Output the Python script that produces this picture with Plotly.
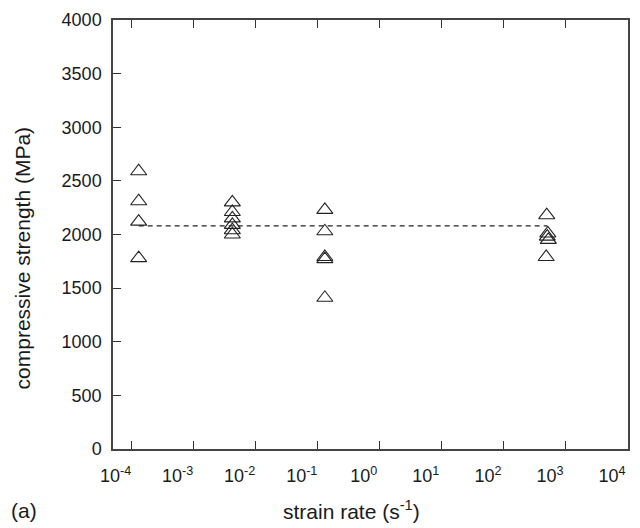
import plotly.graph_objects as go

# strain rate groups (s^-1) and compressive strength (MPa)
rate_1 = [1.3e-4] * 4
strength_1 = [2590, 2310, 2120, 1780]
rate_2 = [4.2e-3] * 6
strength_2 = [2300, 2210, 2150, 2090, 2040, 2000]
rate_3 = [0.13] * 5
strength_3 = [2230, 2030, 1790, 1770, 1410]
rate_4 = [490, 510, 500, 520, 480]
strength_4 = [2180, 2010, 1980, 1950, 1790]
mean_rate = [1.3e-4, 500]
mean_strength = [2080, 2080]

x_tickvals = [1e-4, 1e-3, 1e-2, 1e-1, 1e0, 1e1, 1e2, 1e3, 1e4]
x_ticktext = ["10<sup>-4</sup>", "10<sup>-3</sup>", "10<sup>-2</sup>", "10<sup>-1</sup>",
              "10<sup>0</sup>", "10<sup>1</sup>", "10<sup>2</sup>", "10<sup>3</sup>", "10<sup>4</sup>"]
y_tickvals = [0, 500, 1000, 1500, 2000, 2500, 3000, 3500, 4000]

xs = rate_1 + rate_2 + rate_3 + rate_4
ys = strength_1 + strength_2 + strength_3 + strength_4

W, H = 624, 520
L, R, T, B = 105, 2, 5, 79

fig = go.Figure()
fig.add_trace(go.Scatter(
    x=mean_rate, y=mean_strength, mode="lines",
    line=dict(color="#222", width=1.2, dash="5px,4px"),
    showlegend=False, hoverinfo="skip"))
fig.add_trace(go.Scatter(
    x=xs, y=ys, mode="markers",
    marker=dict(symbol="triangle-up-open", size=14, color="#222", line=dict(width=1.1, color="#222")),
    showlegend=False))

font = dict(family="Liberation Sans", size=18, color="#1a1a1a")
fig.update_layout(
    width=W, height=H,
    margin=dict(l=L, r=R, t=T, b=B),
    paper_bgcolor="white", plot_bgcolor="white",
    font=font,
    xaxis=dict(type="log", range=[-4.3, 4.0], tickvals=x_tickvals, ticktext=x_ticktext,
               ticks="inside", ticklen=8, tickcolor="#333", tickwidth=1,
               showline=True, linecolor="#444", linewidth=1.5, mirror="ticks",
               showgrid=False, zeroline=False, tickfont=dict(size=18),
               ticklabelstandoff=10, ticklabelshift=-16, ticklabeloverflow="allow"),
    yaxis=dict(range=[0, 4000], tickvals=y_tickvals,
               ticks="inside", ticklen=8, tickcolor="#333", tickwidth=1,
               showline=True, linecolor="#444", linewidth=1.5, mirror=True,
               showgrid=False, zeroline=False, tickfont=dict(size=18),
               ticklabelstandoff=6, ticklabeloverflow="allow"),
    annotations=[
        dict(text="compressive strength (MPa)", textangle=-90,
             x=14, xref="paper", y=247, yref="paper", showarrow=False,
             xanchor="center", yanchor="middle", font=dict(size=21)),
        dict(text="strain rate (s<sup>-1</sup>)",
             x=344, xref="paper", y=503, yref="paper", showarrow=False,
             xanchor="center", yanchor="middle", font=dict(size=21)),
        dict(text="(a)", x=1, xref="paper", xanchor="left",
             y=503, yref="paper", yanchor="middle", showarrow=False, font=dict(size=21)),
    ],
)
# convert pixel positions of annotations to paper coordinates
pw = W - L - R
ph = H - T - B
for a in fig.layout.annotations:
    a.x = (a.x - L) / pw
    a.y = 1 - (a.y - T) / ph
fig.write_html("out.html")
